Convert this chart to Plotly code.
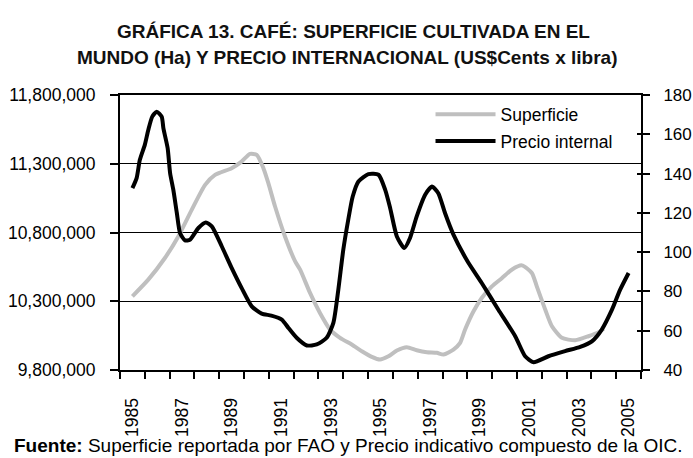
import plotly.graph_objects as go

# Superficie cultivada de café en el mundo (Ha), eje izquierdo
SUP_T = [1985.0, 1985.64, 1986.31, 1986.85, 1987.39, 1987.93, 1988.33, 1989.0, 1989.4,
         1989.74, 1990.01, 1990.28, 1990.48, 1990.75, 1991.15, 1991.56, 1991.76, 1992.16,
         1992.56, 1992.97, 1993.37, 1993.84, 1994.25, 1994.65, 1994.98, 1995.32, 1995.66,
         1996.06, 1996.46, 1996.87, 1997.27, 1997.54, 1997.94, 1998.21, 1998.41, 1998.75,
         1999.08, 1999.49, 1999.9, 2000.29, 2000.7, 2001.1, 2001.3, 2001.64, 2001.91,
         2002.31, 2002.85, 2003.38, 2003.79, 2004.0]
SUP_V = [10335700, 10457000, 10614500, 10771300, 10965000, 11146700, 11219200, 11267800,
         11315700, 11371700, 11364400, 11267800, 11158900, 10989100, 10771300, 10589800,
         10529600, 10360400, 10215200, 10094000, 10033800, 9985100, 9936600, 9895800,
         9876200, 9900200, 9941600, 9965500, 9943700, 9929200, 9924900, 9912500, 9948800,
         9997400, 10094000, 10226900, 10324100, 10408400, 10469300, 10529600, 10560800,
         10505600, 10408400, 10239200, 10118000, 10033800, 10016300, 10045400, 10074400,
         10100000]

# Precio indicativo compuesto OIC (US$ cents / libra), eje derecho
PRE_T = [1985.0, 1985.17, 1985.3, 1985.5, 1985.64, 1985.8, 1985.98, 1986.18, 1986.25,
         1986.42, 1986.52, 1986.65, 1986.79, 1986.92, 1987.12, 1987.32, 1987.66, 1987.96,
         1988.2, 1988.6, 1989.0, 1989.4, 1989.81, 1990.21, 1990.6, 1991.02, 1991.29,
         1991.62, 1992.03, 1992.43, 1992.83, 1993.1, 1993.3, 1993.5, 1993.7, 1993.88,
         1994.11, 1994.51, 1994.92, 1995.19, 1995.39, 1995.66, 1995.96, 1996.19, 1996.46,
         1996.8, 1997.07, 1997.33, 1997.6, 1997.94, 1998.5, 1999.08, 1999.75, 2000.43,
         2000.83, 2001.17, 2001.77, 2002.44, 2003.05, 2003.52, 2003.92, 2004.33, 2004.66,
         2005.0]
PRE_V = [132.6, 137.7, 147.0, 154.6, 162.2, 169.0, 171.5, 169.0, 163.0, 153.0, 140.2,
         131.7, 120.0, 109.7, 106.0, 106.3, 112.3, 115.1, 113.1, 103.0, 92.0, 81.8, 72.4,
         68.7, 67.7, 65.7, 61.4, 56.4, 52.5, 53.0, 56.4, 64.0, 80.9, 101.2, 116.5, 128.3,
         136.0, 139.7, 139.4, 131.7, 122.4, 108.0, 102.1, 107.2, 118.2, 129.2, 133.4, 130.0,
         119.9, 108.9, 95.5, 84.3, 70.7, 57.2, 47.0, 44.0, 47.0, 49.6, 51.8, 54.6, 60.6,
         70.7, 80.9, 89.4]

YEARS = list(range(1985, 2006))
YEAR_LABELS = [str(y) for y in YEARS[::2]]

FONT = "Liberation Sans, Arial, sans-serif"
TXT = 17.5

fig = go.Figure()
fig.add_trace(go.Scatter(x=SUP_T, y=SUP_V, name="Superficie", mode="lines",
                         line=dict(color="#bfbfbf", width=4, shape="spline", smoothing=0.6),
                         legendgroup="a", yaxis="y"))
fig.add_trace(go.Scatter(x=PRE_T, y=PRE_V, name="Precio internal", mode="lines",
                         line=dict(color="#000000", width=4, shape="spline", smoothing=0.6),
                         legendgroup="b", yaxis="y2"))
# empty trace so the inner half of the right-hand tick marks gets drawn
fig.add_trace(go.Scatter(x=[], y=[], yaxis="y3", showlegend=False, hoverinfo="skip"))

fig.update_layout(
    width=693, height=458,
    margin=dict(l=120, r=52, t=95, b=87.5, autoexpand=False),
    paper_bgcolor="white", plot_bgcolor="white",
    font=dict(family=FONT, size=TXT, color="#000000"),
    showlegend=True,
    legend=dict(x=0.596, y=0.995, xanchor="left", yanchor="top",
                bgcolor="rgba(255,255,255,0)", borderwidth=0, itemwidth=60,
                font=dict(size=TXT), tracegroupgap=1, traceorder="grouped"),
    xaxis=dict(range=[1984.5, 2005.5], tickvals=YEARS[::2], ticktext=YEAR_LABELS,
               tickangle=-90, ticks="outside", ticklen=19, tickcolor="rgba(0,0,0,0)",
               showgrid=False, zeroline=False, automargin=False,
               showline=True, linecolor="black", linewidth=2, mirror=True,
               minor=dict(tickvals=[y - 0.5 for y in YEARS] + [YEARS[-1] + 0.5],
                          ticks="outside", ticklen=7, tickcolor="black", tickwidth=1.5,
                          showgrid=False)),
    yaxis=dict(range=[9800000, 11800000], tick0=9800000, dtick=500000, tickformat=",d",
               ticks="outside", ticklen=8, tickcolor="black", tickwidth=1.5,
               ticklabelstandoff=11, automargin=False,
               showgrid=True, gridcolor="black", gridwidth=1.2, zeroline=False,
               showline=True, linecolor="black", linewidth=2),
    yaxis2=dict(range=[40, 180], dtick=20, overlaying="y", side="right",
                ticks="outside", ticklen=7, tickcolor="black", tickwidth=1.5,
                ticklabelstandoff=10, automargin=False, tickfont=dict(size=17),
                showgrid=False, zeroline=False,
                showline=True, linecolor="black", linewidth=2),
    yaxis3=dict(range=[40, 180], dtick=20, overlaying="y", side="right",
                ticks="inside", ticklen=4, tickcolor="black", tickwidth=1.5,
                showticklabels=False, automargin=False,
                showgrid=False, zeroline=False, showline=False),
)

# title (two lines) and source note, positioned relative to the plot area
fig.add_annotation(x=0.4491, y=1.2327, xref="paper", yref="paper", showarrow=False,
                   xanchor="center", yanchor="middle",
                   text="<b>GRÁFICA 13. CAFÉ: SUPERFICIE CULTIVADA EN EL</b>",
                   font=dict(size=19, color="#111111"))
fig.add_annotation(x=0.4367, y=1.1347, xref="paper", yref="paper", showarrow=False,
                   xanchor="center", yanchor="middle",
                   text="<b>MUNDO (Ha) Y PRECIO INTERNACIONAL (US$Cents x libra)</b>",
                   font=dict(size=19, color="#111111"))
fig.add_annotation(x=-0.2073, y=-0.2755, xref="paper", yref="paper", showarrow=False,
                   xanchor="left", yanchor="middle",
                   text="<b>Fuente:</b> Superficie reportada por FAO y Precio indicativo "
                        "compuesto de la OIC.",
                   font=dict(size=19))

# page body has an 8px default margin; drop it so the figure fills the window
fig.write_html("out.html", config={"displayModeBar": False},
               post_script="document.body.style.margin='0';document.body.style.overflow='hidden';")
